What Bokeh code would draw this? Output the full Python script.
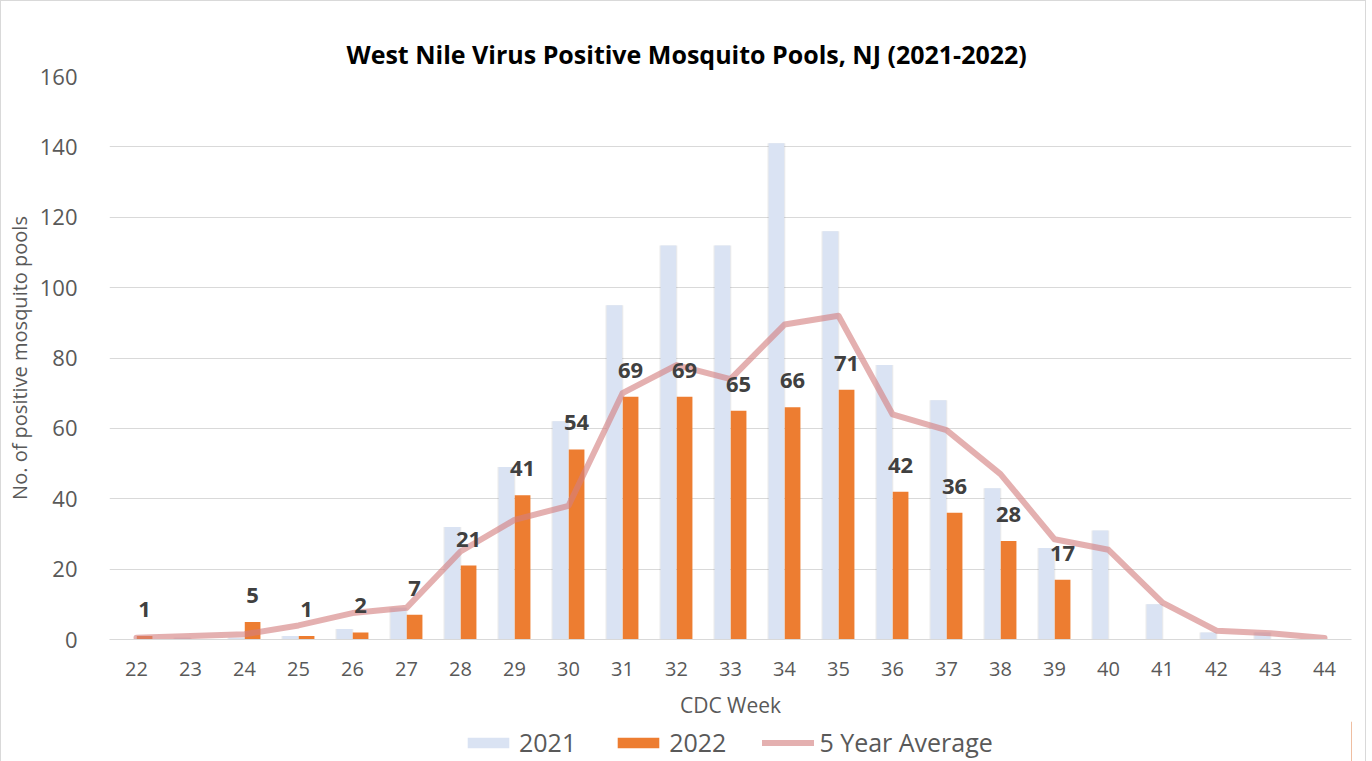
from bokeh.plotting import figure
from bokeh.models import (ColumnDataSource, FactorRange, Legend, LegendItem, LabelSet,
                          Title, SingleIntervalTicker, Range1d)
from bokeh.core.properties import value
from bokeh.transform import dodge
from bokeh.layouts import column
from bokeh.embed import file_html
from bokeh.resources import INLINE

weeks = [str(w) for w in range(22, 45)]
cases_2021 = [0, 0.5, 0.5, 1, 3, 9, 32, 49, 62, 95, 112, 112, 141, 116, 78, 68, 43, 26, 31, 10, 2, 2, 0]
cases_2022 = [1, None, 5, 1, 2, 7, 21, 41, 54, 69, 69, 65, 66, 71, 42, 36, 28, 17, None, None, None, None, None]
five_year_avg = [0.5, 1, 1.5, 4, 7.5, 9, 25, 34, 38, 70, 78, 74, 89.5, 92, 64, 59.5, 47, 28.5, 25.5, 10.5, 2.5, 1.8, 0.4]
series_names = ["2021", "2022", "5 Year Average"]

v22 = [float('nan') if v is None else v for v in cases_2022]
src = ColumnDataSource(dict(week=weeks, y21=cases_2021, y22=v22, avg=five_year_avg))
lab_weeks = [w for w, v in zip(weeks, cases_2022) if v is not None]
lab_vals = [v for v in cases_2022 if v is not None]
lab_src = ColumnDataSource(dict(week=lab_weeks, y=lab_vals, txt=[str(v) for v in lab_vals]))

FONT = "Open Sans"
GRAY = "#595959"
C21, C22, CAVG = "#DAE3F3", "#ED7D31", "#D47F7F"

p = figure(x_range=FactorRange(*weeks, range_padding=0), y_range=Range1d(0, 160),
           width=1364, height=720, output_backend="svg", toolbar_location=None,
           min_border_left=108, min_border_right=14, min_border_top=75, min_border_bottom=80)
p.outline_line_color = None

t = Title(text="West Nile Virus Positive Mosquito Pools, NJ (2021-2022)", align="left",
          text_font=FONT, text_font_size="25px", text_font_style="bold", text_color="#000000",
          offset=237, standoff=12)
p.add_layout(t, "above")

# shadow + 2021 bars
p.vbar(x=dodge('week', -0.15, range=p.x_range), top='y21', width=0.33, source=src,
       fill_color="#000000", fill_alpha=0.08, line_color=None)
p.vbar(x=dodge('week', -0.15, range=p.x_range), top='y21', width=0.29, source=src,
       fill_color=C21, line_color=None)
p.vbar(x=dodge('week', 0.15, range=p.x_range), top='y22', width=0.29, source=src,
       fill_color=C22, line_color=None)
p.line(x='week', y='avg', source=src, line_color=CAVG, line_alpha=0.62, line_width=6,
       line_join="round", line_cap="round")

labels = LabelSet(x=dodge('week', 0.15, range=p.x_range), y='y', text='txt', source=lab_src,
                  text_align="center", text_baseline="alphabetic", y_offset=19,
                  text_font=value(FONT), text_font_size=value("22px"),
                  text_font_style=value("bold"), text_color=value("#404040"))
p.add_layout(labels)

p.yaxis.ticker = SingleIntervalTicker(interval=20)
p.ygrid.grid_line_color = "#D9D9D9"
p.xgrid.grid_line_color = None
p.yaxis.axis_line_color = None
p.yaxis.major_tick_line_color = None
p.yaxis.minor_tick_line_color = None
p.yaxis.major_label_standoff = 26
p.yaxis.major_label_text_font = FONT
p.yaxis.major_label_text_font_size = "22px"
p.yaxis.major_label_text_color = GRAY
p.yaxis.axis_label = "No. of positive mosquito pools"
p.yaxis.axis_label_text_font = FONT
p.yaxis.axis_label_text_font_size = "20px"
p.yaxis.axis_label_text_font_style = "normal"
p.yaxis.axis_label_text_color = GRAY
p.yaxis.axis_label_standoff = 4

p.xaxis.axis_line_color = "#D9D9D9"
p.xaxis.axis_line_width = 1
p.xaxis.major_tick_line_color = None
p.xaxis.minor_tick_line_color = None
p.xaxis.major_label_standoff = 16
p.xaxis.major_label_text_font = FONT
p.xaxis.major_label_text_font_size = "20px"
p.xaxis.major_label_text_color = GRAY
p.xaxis.axis_label = "CDC Week"
p.xaxis.axis_label_text_font = FONT
p.xaxis.axis_label_text_font_size = "21px"
p.xaxis.axis_label_text_font_style = "normal"
p.xaxis.axis_label_text_color = GRAY
p.xaxis.axis_label_standoff = 12

# legend strip (its frame is aligned with the main frame by the column layout)
lg = figure(width=1364, height=40, output_backend="svg", toolbar_location=None,
            x_range=Range1d(0, 1), y_range=Range1d(0, 1),
            min_border_left=108, min_border_right=14, min_border_top=0, min_border_bottom=0,
            x_axis_location=None, y_axis_location=None)
lg.outline_line_color = None
lg.grid.visible = False
off = ColumnDataSource(dict(x=[5, 6], top=[5, 5]))  # outside the visible range
d21 = lg.vbar(x='x', top='top', width=0.1, source=off, fill_color=C21, line_color=None)
d22 = lg.vbar(x='x', top='top', width=0.1, source=off, fill_color=C22, line_color=None)
dav = lg.line(x='x', y='top', source=off, line_color=CAVG, line_alpha=0.62, line_width=6,
              line_cap="round")
legend = Legend(items=[LegendItem(label=series_names[0], renderers=[d21]),
                       LegendItem(label=series_names[1], renderers=[d22]),
                       LegendItem(label=series_names[2], renderers=[dav])],
                orientation="horizontal", location=(353, 2),
                glyph_width=52, glyph_height=13, label_standoff=5, spacing=36,
                label_text_font=FONT, label_text_font_size="25px", label_text_color=GRAY,
                border_line_color=None, background_fill_alpha=0, padding=0, margin=0)
lg.add_layout(legend, "center")

layout = column(p, lg, spacing=0)
layout.styles = {"border": "1px solid #D9D9D9"}

open("out.html", "w").write(file_html(layout, INLINE))
